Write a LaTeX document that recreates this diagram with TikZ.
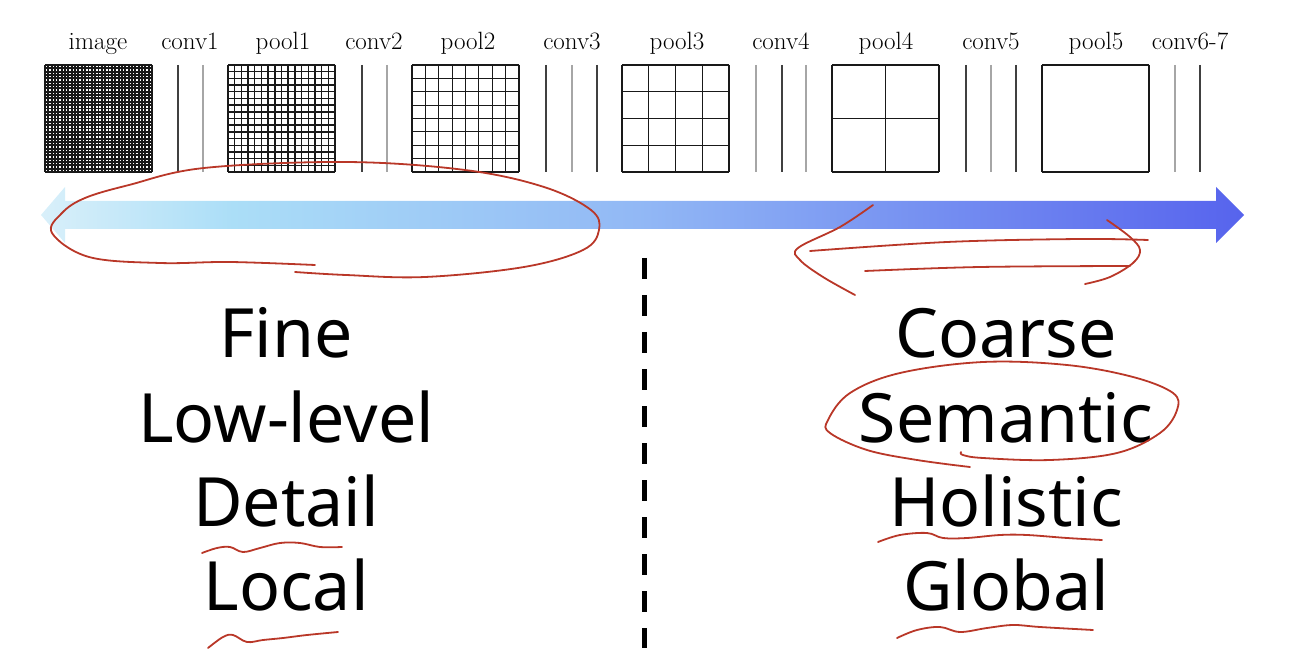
\documentclass[tikz,border=0pt]{standalone}
\usepackage{fontspec}
\newfontfamily\wordfont{Noto Sans}
\usetikzlibrary{calc}
\definecolor{marker}{RGB}{185,55,40}
\pgfdeclarehorizontalshading{depth}{100bp}{rgb(0bp)=(0.85,0.94,0.98); rgb(25bp)=(0.85,0.94,0.98); rgb(33bp)=(0.67,0.87,0.97); rgb(50bp)=(0.57,0.72,0.96); rgb(75bp)=(0.34,0.39,0.93); rgb(100bp)=(0.34,0.39,0.93)}

\begin{document}
\begin{tikzpicture}[x=1pt, y=-1pt,
  lbl/.style={font=\fontsize{25}{25}\selectfont, anchor=base, inner sep=0pt},
  word/.style={font=\wordfont\fontsize{68}{68}\selectfont, anchor=base, inner sep=0pt},
  cell/.style={draw=black!90, line width=1.2},
  dark/.style={draw=black!75, line width=1.6},
  light/.style={draw=black!35, line width=1.6},
  ink/.style={draw=marker, line width=1.8, line cap=round, line join=round}]
  \useasboundingbox (0,0) rectangle (1296,660);

  \node[lbl] (image) at (98,50) {image};
  \node[lbl] (conv1) at (190,50) {conv1};
  \node[lbl] (pool1) at (283,50) {pool1};
  \node[lbl] (conv2) at (374,50) {conv2};
  \node[lbl] (pool2) at (468,50) {pool2};
  \node[lbl] (conv3) at (572,50) {conv3};
  \node[lbl] (pool3) at (677,50) {pool3};
  \node[lbl] (conv4) at (781,50) {conv4};
  \node[lbl] (pool4) at (886,50) {pool4};
  \node[lbl] (conv5) at (991,50) {conv5};
  \node[lbl] (pool5) at (1096,50) {pool5};
  \node[lbl] (conv67) at (1190,50) {conv6-7};

  \foreach \n/\x/\w in {32/45/1.9, 16/228/1.4, 8/412/1.2, 4/622/1.2, 2/832/1.2, 1/1042/1.2} {
    \foreach \i in {0,...,\n} {
      \draw[cell, line width=\w] ({\x+\i*107/\n},65) -- ({\x+\i*107/\n},172);
      \draw[cell, line width=\w] (\x,{65+\i*107/\n}) -- ({\x+107},{65+\i*107/\n});
    }
  }

  \foreach \x/\s in {178/dark, 203/light, 362/dark, 387/light,
                     546/dark, 572/light, 597/dark, 756/light, 782/dark, 806/light,
                     966/dark, 991/light, 1016/dark, 1175/light, 1200/dark}
    \draw[\s] (\x,65) -- (\x,172);

  \shade[shading=depth] (41,215) -- (65,187) -- (65,201) -- (1216,201) -- (1216,187)
    -- (1244,215) -- (1216,243) -- (1216,229) -- (65,229) -- (65,243) -- cycle;

  \draw[line width=5, dash pattern=on 21 off 16] (644,258) -- (644,648);

  \node[word] (fine) at (286,358) {Fine};
  \node[word] (lowlevel) at (286,442) {Low-level};
  \node[word] (detail) at (286,526) {Detail};
  \node[word] (local) at (286,610) {Local};
  \node[word] (coarse) at (1006,358) {Coarse};
  \node[word] (semantic) at (1006,442) {Semantic};
  \node[word] (holistic) at (1006,526) {Holistic};
  \node[word] (global) at (1006,610) {Global};

  \draw[ink] plot[smooth, tension=0.6] coordinates {(315,265) (230,262) (160,263) (89,257)
    (52,233) (62,213) (85,198) (129,185) (204,168) (346,162) (465,170) (544,187) (591,210)
    (599,230) (583,250) (524,267) (425,277) (346,275) (295,272)};

  \draw[ink] plot[smooth, tension=0.6] coordinates {(873,205) (840,227) (798,248) (800,260)
    (823,277) (855,295)};
  \draw[ink] plot[smooth, tension=0.6] coordinates {(810,251) (947,242) (1080,239) (1148,240)};
  \draw[ink] plot[smooth, tension=0.6] coordinates {(865,271) (980,267) (1130,266)};
  \draw[ink] plot[smooth, tension=0.6] coordinates {(1107,220) (1130,237) (1140,250)
    (1133,263) (1110,277) (1085,284)};

  \draw[ink] plot[smooth, tension=0.6] coordinates {(970,467) (917,460) (867,450) (830,433)
    (828,420) (850,393) (900,373) (983,362) (1067,365) (1133,377) (1173,393) (1177,410)
    (1160,433) (1117,453) (1050,460) (983,458) (963,455) (961,452)};

  \draw[ink] plot[smooth, tension=0.6] coordinates {(202,553) (217,548) (230,547) (243,552)
    (260,548) (280,543) (300,543) (320,547) (342,547)};
  \draw[ink] plot[smooth, tension=0.6] coordinates {(208,648) (223,637) (233,635) (247,642)
    (263,640) (283,638) (307,635) (338,632)};
  \draw[ink] plot[smooth, tension=0.6] coordinates {(878,542) (900,535) (927,533) (943,538)
    (967,538) (1000,535) (1027,535) (1067,538) (1102,540)};
  \draw[ink] plot[smooth, tension=0.6] coordinates {(897,638) (917,630) (940,627) (960,632)
    (987,628) (1013,625) (1040,627) (1093,630)};
\end{tikzpicture}
\end{document}
